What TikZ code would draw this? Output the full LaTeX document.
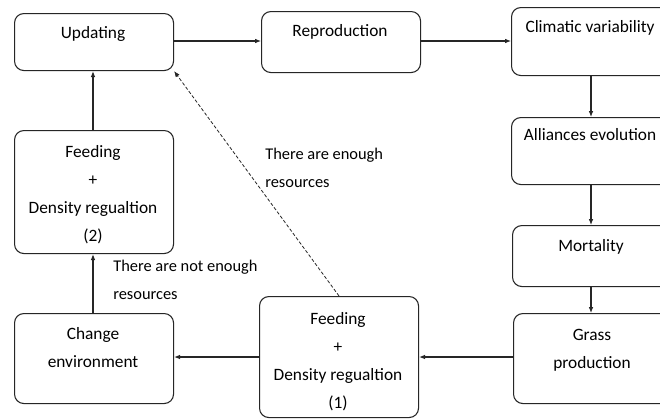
\documentclass[tikz,border=0pt]{standalone}
\usepackage{fontspec}
\setmainfont{Carlito}
\usetikzlibrary{arrows.meta}
\begin{document}
\begin{tikzpicture}[x=0.75pt,y=-0.75pt,
  box/.style={draw=black!85,line width=0.8pt,rounded corners=7pt,minimum width=#1,inner sep=0pt,anchor=north west},
  txt/.style={font=\fontsize{13}{21}\selectfont,align=center,anchor=base,inner sep=0pt},
  lbl/.style={font=\fontsize{12.3}{21}\selectfont,align=left,anchor=base west,inner sep=0pt},
  arr/.style={draw=black!85,line width=0.8pt,-{Latex[length=4.5pt,width=3.5pt]}}]
\useasboundingbox (0,0) rectangle (660,418);
\clip (0,0) rectangle (660,418);
\fill[white] (0,0) rectangle (660,418);
% boxes
\node[box=159*0.75pt,minimum height=57*0.75pt] (U) at (14,13) {};
\node[box=159*0.75pt,minimum height=61*0.75pt] (R) at (261,11) {};
\node[box=158*0.75pt,minimum height=68*0.75pt] (C) at (511,7) {};
\node[box=158*0.75pt,minimum height=67*0.75pt] (A) at (511,117) {};
\node[box=158*0.75pt,minimum height=61*0.75pt] (M) at (512,225) {};
\node[box=158*0.75pt,minimum height=90*0.75pt] (G) at (513,313) {};
\node[box=159*0.75pt,minimum height=121*0.75pt] (F1) at (259,296) {};
\node[box=159*0.75pt,minimum height=90*0.75pt] (E) at (14,313) {};
\node[box=159*0.75pt,minimum height=123*0.75pt] (F2) at (14,130) {};
% texts (base = baseline of last line)
\node[txt] (Ut) at (93,38) {Updating};
\node[txt] (Rt) at (340,36) {Reproduction};
\node[txt] (Ct) at (590,32) {Climatic variability};
\node[txt] (At) at (590,140) {Alliances evolution};
\node[txt] (Mt) at (591,251) {Mortality};
\node[txt] (Gt) at (592,368) {Grass\\production};
\node[txt] (F1t) at (338,408) {Feeding\\+\\Density regualtion\\(1)};
\node[txt] (Et) at (93,367) {Change\\environment};
\node[txt] (F2t) at (93,241) {Feeding\\+\\Density regualtion\\(2)};
\node[lbl] (L1) at (265,187) {There are enough\\resources};
\node[lbl] (L2) at (113,299) {There are not enough\\resources};
% connectors
\draw[arr] (U.east |- 0,41) -- (R.west |- 0,41);
\draw[arr] (R.east |- 0,41) -- (C.west |- 0,41);
\draw[arr] (C.south -| 591,0) -- (A.north -| 591,0);
\draw[arr] (A.south -| 591,0) -- (M.north -| 591,0);
\draw[arr] (M.south -| 591,0) -- (G.north -| 591,0);
\draw[arr] (G.west |- 0,357) -- (F1.east |- 0,357);
\draw[arr] (F1.west |- 0,357) -- (E.east |- 0,357);
\draw[arr] (E.north -| 93,0) -- (F2.south -| 93,0);
\draw[arr] (F2.north -| 93,0) -- (U.south -| 93,0);
\draw[arr,line width=0.6pt,dash pattern=on 2.5pt off 1.5pt] (F1.north) -- (U.south east);
\end{tikzpicture}
\end{document}
